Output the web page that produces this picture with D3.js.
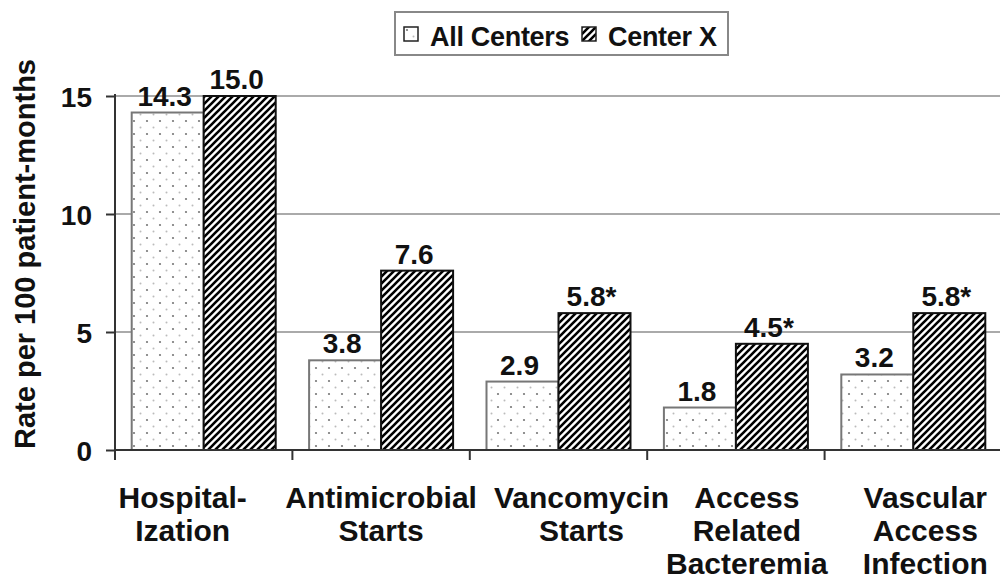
<!DOCTYPE html>
<html>
<head>
<meta charset="utf-8">
<script src="https://cdn.jsdelivr.net/npm/d3@7"></script>
<style>
  html, body { margin: 0; padding: 0; background: #fff; }
  svg { display: block; font-family: "Liberation Sans", Arial, sans-serif; }
</style>
</head>
<body>
<svg id="chart" width="1000" height="579"></svg>
<script>
// ---- data ----
const categories = [
  ["Hospital-", "Ization"],
  ["Antimicrobial", "Starts"],
  ["Vancomycin", "Starts"],
  ["Access", "Related", "Bacteremia"],
  ["Vascular", "Access", "Infection"]
];
const seriesNames = ["All Centers", "Center X"];
const allCenters = [14.3, 3.8, 2.9, 1.8, 3.2];
const centerX = [15.0, 7.6, 5.8, 4.5, 5.8];
const valueLabels = [
  ["14.3", "3.8", "2.9", "1.8", "3.2"],
  ["15.0", "7.6", "5.8*", "4.5*", "5.8*"]
];
const yTicks = [0, 5, 10, 15];
const yTitle = "Rate per 100 patient-months";

// ---- layout ----
const svg = d3.select("#chart");
const pLeft = 115, pRight = 1002, pTop = 96, pBottom = 450;
const labelDx = [-21, 0, 23, 11, 12];

const x0 = d3.scaleBand().domain(d3.range(categories.length)).range([pLeft, pRight]).padding(0);
const x1 = d3.scaleBand().domain(seriesNames).range([0, x0.bandwidth()]).paddingInner(0).paddingOuter(0.232);
const y = d3.scaleLinear().domain([0, 15]).range([pBottom, pTop]);

// patterns
const defs = svg.append("defs");
const dots = defs.append("pattern").attr("id", "dots").attr("patternUnits", "userSpaceOnUse")
  .attr("width", 13).attr("height", 13);
dots.append("rect").attr("width", 13).attr("height", 13).attr("fill", "#fff");
dots.append("circle").attr("cx", 4).attr("cy", 4).attr("r", 1.1).attr("fill", "#777");
dots.append("circle").attr("cx", 10.5).attr("cy", 10.5).attr("r", 1).attr("fill", "#bbb");

const hatch = defs.append("pattern").attr("id", "hatch").attr("patternUnits", "userSpaceOnUse")
  .attr("width", 7).attr("height", 7);
hatch.append("rect").attr("width", 7).attr("height", 7).attr("fill", "#fff");
hatch.append("path").attr("d", "M-1,1 l2,-2 M0,7 l7,-7 M6,8 l2,-2")
  .attr("stroke", "#000").attr("stroke-width", 2.6);

const fills = { "All Centers": "url(#dots)", "Center X": "url(#hatch)" };
const strokes = { "All Centers": "#777", "Center X": "#111" };

// gridlines
svg.append("g").selectAll("line").data(yTicks.filter(d => d > 0)).join("line")
  .attr("x1", pLeft).attr("x2", 1000)
  .attr("y1", d => y(d)).attr("y2", d => y(d))
  .attr("stroke", "#aaa").attr("stroke-width", 2);

// bars
const seriesData = [allCenters, centerX];
const gBars = svg.append("g");
seriesNames.forEach((s, si) => {
  gBars.selectAll(null).data(seriesData[si]).join("rect")
    .attr("x", (d, i) => x0(i) + x1(s))
    .attr("y", d => y(d))
    .attr("width", x1.bandwidth())
    .attr("height", d => y(0) - y(d))
    .attr("fill", fills[s])
    .attr("stroke", strokes[s])
    .attr("stroke-width", 2);
});
seriesNames.forEach((s, si) => {
  gBars.selectAll(null).data(seriesData[si]).join("text")
    .attr("x", (d, i) => x0(i) + x1(s) + x1.bandwidth() / 2 - 3)
    .attr("y", d => y(d) - 7)
    .attr("text-anchor", "middle")
    .attr("font-size", 28).attr("font-weight", "bold").attr("fill", "#111")
    .text((d, i) => valueLabels[si][i]);
});

// y axis
const yAxis = d3.axisLeft(y).tickValues(yTicks).tickSize(9).tickPadding(14).tickFormat(d3.format("d"));
const gy = svg.append("g").attr("transform", `translate(${pLeft},0)`).call(yAxis);
gy.select(".domain").attr("stroke", "#333").attr("stroke-width", 2).attr("d", `M0,${pTop - 2}V${pBottom + 10}`);
gy.selectAll(".tick line").attr("stroke", "#333").attr("stroke-width", 2);
gy.selectAll(".tick text").attr("font-size", 28).attr("font-weight", "bold").attr("fill", "#111")
  .attr("font-family", "Liberation Sans, Arial, sans-serif").attr("dy", "0.36em");

// x axis
const gx = svg.append("g");
gx.append("line").attr("x1", pLeft).attr("x2", 1000).attr("y1", pBottom).attr("y2", pBottom)
  .attr("stroke", "#333").attr("stroke-width", 2);
gx.selectAll("line.tk").data(d3.range(categories.length)).join("line").attr("class", "tk")
  .attr("x1", i => x0(i)).attr("x2", i => x0(i))
  .attr("y1", pBottom).attr("y2", pBottom + 10)
  .attr("stroke", "#333").attr("stroke-width", 2);

// category labels
const gl = svg.append("g");
categories.forEach((lines, i) => {
  const cx = x0(i) + x0.bandwidth() / 2 + labelDx[i];
  const t = gl.append("text")
    .attr("text-anchor", "middle")
    .attr("font-size", 30).attr("font-weight", "bold").attr("fill", "#111");
  lines.forEach((ln, j) => {
    t.append("tspan").attr("x", cx).attr("y", 508 + j * 33).text(ln);
  });
});

// y title
svg.append("text")
  .attr("transform", "translate(35,254) rotate(-90)")
  .attr("text-anchor", "middle")
  .attr("font-size", 29).attr("font-weight", "bold").attr("fill", "#111")
  .text(yTitle);

// legend
const lg = svg.append("g");
lg.append("rect").attr("x", 395).attr("y", 12).attr("width", 333).attr("height", 43)
  .attr("fill", "#fff").attr("stroke", "#888").attr("stroke-width", 2);
const legendItems = [
  { name: seriesNames[0], sx: 404, tx: 430 },
  { name: seriesNames[1], sx: 582, tx: 608 }
];
legendItems.forEach(it => {
  lg.append("rect").attr("x", it.sx).attr("y", 27).attr("width", 14).attr("height", 14)
    .attr("fill", fills[it.name]).attr("stroke", "#222").attr("stroke-width", 1.5);
  lg.append("text").attr("x", it.tx).attr("y", 46)
    .attr("font-size", 27).attr("font-weight", "bold").attr("letter-spacing", "-0.3")
    .attr("fill", "#111").text(it.name);
});
</script>
</body>
</html>
